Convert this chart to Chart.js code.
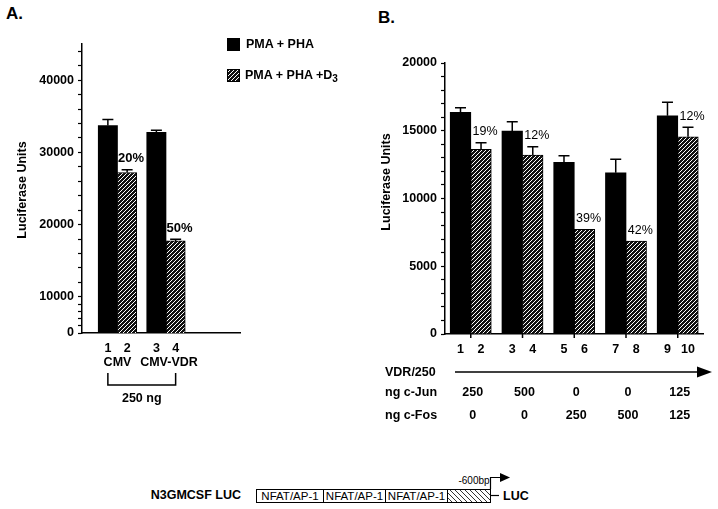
<!DOCTYPE html>
<html>
<head>
<meta charset="utf-8">
<script src="https://cdn.jsdelivr.net/npm/chart.js@4.4.1/dist/chart.umd.min.js"></script>
<style>
  html, body { margin: 0; padding: 0; background: #fff; }
  #fig { position: relative; width: 718px; height: 509px; overflow: hidden;
         font-family: "Liberation Sans", Arial, sans-serif; color: #000; }
  .abs { position: absolute; white-space: nowrap; }
  .panel { font-weight: bold; font-size: 17px; line-height: 20px; }
  .lg { font-weight: bold; font-size: 12.5px; line-height: 15px; }
  .lg sub { font-size: 10px; vertical-align: -3px; line-height: 0; }
</style>
</head>
<body>
<div id="fig">
  <div class="abs panel" style="left:6px;top:4px">A.</div>
  <div class="abs panel" style="left:378px;top:8px">B.</div>

  <canvas id="chartA" class="abs" width="260" height="420" style="left:0;top:0"></canvas>
  <canvas id="chartB" class="abs" width="358" height="430" style="left:360px;top:0"></canvas>

  <!-- legend -->
  <div class="abs" style="left:227px;top:38px;width:13px;height:13px;background:#000"></div>
  <div class="abs lg" style="left:246px;top:37px">PMA + PHA</div>
  <canvas id="swatch" class="abs" width="13" height="13" style="left:227px;top:69px"></canvas>
  <div class="abs lg" style="left:245px;top:68px">PMA + PHA +D<sub>3</sub></div>

  <!-- reporter construct -->
  <svg class="abs" style="left:0;top:460px" width="718" height="49">
    <defs>
      <pattern id="dh" width="5" height="5" patternUnits="userSpaceOnUse">
        <path d="M-1,-1 L6,6 M-1,4 L1,6 M4,-1 L6,1" stroke="#000" stroke-width="0.8"/>
      </pattern>
    </defs>
    <g font-family="Liberation Sans, Arial, sans-serif" fill="#000">
      <text x="241" y="35" text-anchor="end" dominant-baseline="central" font-weight="bold" font-size="12.5">N3GMCSF LUC</text>
      <rect x="256.5" y="29.5" width="67" height="13" fill="#fff" stroke="#000"/>
      <rect x="323.5" y="29.5" width="62" height="13" fill="#fff" stroke="#000"/>
      <rect x="385.5" y="29.5" width="62" height="13" fill="#fff" stroke="#000"/>
      <rect x="447.5" y="29.5" width="43" height="13" fill="url(#dh)" stroke="#000"/>
      <text x="290" y="36" text-anchor="middle" dominant-baseline="central" font-size="11.5">NFAT/AP-1</text>
      <text x="354.5" y="36" text-anchor="middle" dominant-baseline="central" font-size="11.5">NFAT/AP-1</text>
      <text x="416.5" y="36" text-anchor="middle" dominant-baseline="central" font-size="11.5">NFAT/AP-1</text>
      <text x="474" y="20" text-anchor="middle" dominant-baseline="central" font-size="10">-600bp</text>
      <path d="M490.5,29 V17.5 H501" fill="none" stroke="#000" stroke-width="1.2"/>
      <path d="M500,13 L510,17.5 L500,22 Z" fill="#000"/>
      <path d="M491,35.5 H499" stroke="#000" stroke-width="1.2"/>
      <text x="503" y="36" dominant-baseline="central" font-weight="bold" font-size="12.5">LUC</text>
    </g>
  </svg>
</div>

<script>
// ---- data ----
const seriesNames = ['PMA + PHA', 'PMA + PHA +D3'];

// panel A
const groupsA = ['CMV', 'CMV-VDR'];
const lanesA = ['1', '2', '3', '4'];
const plainA = [33710, 32780];
const plainErrA = [830, 280];
const d3A = [27220, 17740];
const d3ErrA = [380, 230];
const pctA = ['20%', '50%'];
const amountA = '250 ng';
const majorTicksA = [5000, 10000, 20000, 30000, 40000];
const majorLabelsA = ['0', '10000', '20000', '30000', '40000'];
const minorTicksA = [6000, 7000, 8000, 9000, 12000, 14000, 16000, 18000, 22000, 24000, 26000, 28000,
                     32000, 34000, 36000, 38000, 42000, 44000];

// panel B
const lanesB = ['1', '2', '3', '4', '5', '6', '7', '8', '9', '10'];
const plainB = [16360, 14980, 12670, 11900, 16110];
const plainErrB = [340, 690, 490, 990, 990];
const d3B = [13630, 13210, 7730, 6860, 14560];
const d3ErrB = [490, 610, 0, 0, 690];
const pctB = ['19%', '12%', '39%', '42%', '12%'];
const vdrLabel = 'VDR/250';
const junB = ['250', '500', '0', '0', '125'];
const fosB = ['0', '0', '250', '500', '125'];
const majorTicksB = [0, 5000, 10000, 15000, 20000];
const majorLabelsB = ['0', '5000', '10000', '15000', '20000'];
const minorTicksB = [1000, 2000, 3000, 4000, 6000, 7000, 8000, 9000, 11000, 12000, 13000, 14000,
                     16000, 17000, 18000, 19000];

// ---- helpers ----
const FONT = '"Liberation Sans", Arial, sans-serif';
const STEP = 2.52; // distance between pairs, in bar widths

function makeHatch(ctx) {
  const c = document.createElement('canvas');
  c.width = 4; c.height = 4;
  const g = c.getContext('2d');
  g.fillStyle = '#111';
  g.fillRect(0, 0, 4, 4);
  g.strokeStyle = '#fff';
  g.lineWidth = 1;
  g.beginPath();
  g.moveTo(0, 4); g.lineTo(4, 0);
  g.moveTo(-1, 1); g.lineTo(1, -1);
  g.moveTo(3, 5); g.lineTo(5, 3);
  g.stroke();
  return ctx.createPattern(c, 'repeat');
}

const sw = document.getElementById('swatch').getContext('2d');
sw.fillStyle = makeHatch(sw);
sw.fillRect(0, 0, 13, 13);
sw.strokeStyle = '#000';
sw.strokeRect(0.5, 0.5, 12, 12);

function pairData(values, s) {
  return values.map((v, i) => ({ x: i * STEP + s, y: v }));
}

function laneValues(n) {
  const out = [];
  for (let i = 0; i < n; i++) out.push(Math.floor(i / 2) * STEP + (i % 2));
  return out;
}

const errorBars = {
  id: 'errorBars',
  afterDatasetsDraw(chart) {
    const { ctx, scales: { y } } = chart;
    ctx.save();
    ctx.strokeStyle = '#000';
    ctx.lineWidth = 1.5;
    chart.data.datasets.forEach((ds, di) => {
      chart.getDatasetMeta(di).data.forEach((bar, i) => {
        const e = ds.errors[i];
        if (!e) return;
        const top = y.getPixelForValue(ds.data[i].y + e);
        ctx.beginPath();
        ctx.moveTo(bar.x, bar.y);
        ctx.lineTo(bar.x, top);
        ctx.moveTo(bar.x - 5.5, top);
        ctx.lineTo(bar.x + 5.5, top);
        ctx.stroke();
      });
    });
    ctx.restore();
  }
};

const pctLabels = {
  id: 'pctLabels',
  afterDatasetsDraw(chart, args, opts) {
    const { ctx, scales: { y } } = chart;
    const ds = chart.data.datasets[1];
    ctx.save();
    ctx.fillStyle = '#000';
    ctx.font = opts.font;
    ctx.textAlign = 'center';
    ctx.textBaseline = 'middle';
    chart.getDatasetMeta(1).data.forEach((bar, i) => {
      const top = y.getPixelForValue(ds.data[i].y + ds.errors[i]);
      ctx.fillText(opts.labels[i], bar.x + 4, top - 11);
    });
    ctx.restore();
  }
};

const yTitle = {
  id: 'yTitle',
  afterDraw(chart, args, opts) {
    const { ctx, chartArea } = chart;
    ctx.save();
    ctx.translate(opts.x, (chartArea.top + chartArea.bottom) / 2 + opts.shift);
    ctx.rotate(-Math.PI / 2);
    ctx.fillStyle = '#000';
    ctx.font = 'bold 12.5px ' + FONT;
    ctx.textAlign = 'center';
    ctx.textBaseline = 'middle';
    ctx.fillText('Luciferase Units', 0, 0);
    ctx.restore();
  }
};

const belowA = {
  id: 'belowA',
  afterDraw(chart) {
    const { ctx, chartArea, scales: { x } } = chart;
    const b = chartArea.bottom;
    ctx.save();
    ctx.fillStyle = '#000';
    ctx.strokeStyle = '#000';
    ctx.font = 'bold 12.5px ' + FONT;
    ctx.textAlign = 'center';
    ctx.textBaseline = 'middle';
    groupsA.forEach((g, i) => ctx.fillText(g, x.getPixelForValue(i * STEP + 0.5) + (i ? 3 : 0), b + 30));
    const x0 = x.getPixelForValue(0);
    const x1 = x.getPixelForValue((groupsA.length - 1) * STEP + 1);
    ctx.lineWidth = 1.5;
    ctx.beginPath();
    ctx.moveTo(x0, b + 40);
    ctx.lineTo(x0, b + 52);
    ctx.lineTo(x1, b + 52);
    ctx.lineTo(x1, b + 40);
    ctx.stroke();
    ctx.fillText(amountA, (x0 + x1) / 2, b + 66);
    ctx.restore();
  }
};

const belowB = {
  id: 'belowB',
  afterDraw(chart) {
    const { ctx, chartArea, scales: { x } } = chart;
    const b = chartArea.bottom, l = chartArea.left, r = chartArea.right;
    ctx.save();
    ctx.fillStyle = '#000';
    ctx.strokeStyle = '#000';
    ctx.lineWidth = 1.5;
    // small ticks between the two bars of each pair
    junB.forEach((_, i) => {
      const px = x.getPixelForValue(i * STEP + 0.5);
      ctx.beginPath();
      ctx.moveTo(px, b);
      ctx.lineTo(px, b + 4);
      ctx.stroke();
    });
    ctx.font = 'bold 12.5px ' + FONT;
    ctx.textBaseline = 'middle';
    ctx.textAlign = 'left';
    ctx.fillText(vdrLabel, l - 60, b + 39);
    ctx.fillText('ng c-Jun', l - 60, b + 59);
    ctx.fillText('ng c-Fos', l - 60, b + 82);
    // arrow
    ctx.beginPath();
    ctx.moveTo(l + 10, b + 38);
    ctx.lineTo(r - 4, b + 38);
    ctx.stroke();
    ctx.beginPath();
    ctx.moveTo(r - 6, b + 32.5);
    ctx.lineTo(r + 9, b + 38);
    ctx.lineTo(r - 6, b + 43.5);
    ctx.closePath();
    ctx.fill();
    ctx.textAlign = 'center';
    junB.forEach((t, i) => ctx.fillText(t, x.getPixelForValue(i * STEP + 0.5) + 2, b + 59));
    fosB.forEach((t, i) => ctx.fillText(t, x.getPixelForValue(i * STEP + 0.5) + 2, b + 82));
    ctx.restore();
  }
};

function yScale(min, max, major, labels, minor, width) {
  return {
    min: min, max: max,
    afterBuildTicks: s => { s.ticks = major.concat(minor).sort((a, b) => a - b).map(v => ({ value: v })); },
    afterFit: s => { s.width = width; },
    border: { display: true, color: '#000', width: 1.5 },
    grid: { drawOnChartArea: false, drawTicks: true, tickLength: 4, tickColor: '#000', tickWidth: 1.2 },
    ticks: {
      autoSkip: false, padding: 4, color: '#000',
      font: { family: FONT, size: 12.5, weight: 'bold' },
      callback: v => { const i = major.indexOf(v); return i >= 0 ? labels[i] : ''; }
    }
  };
}

function xScale(min, max, lanes) {
  const vals = laneValues(lanes.length);
  return {
    type: 'linear', min: min, max: max, offset: false,
    afterBuildTicks: s => { s.ticks = vals.map(v => ({ value: v })); },
    afterFit: s => { s.height = 24; },
    border: { display: true, color: '#000', width: 1.5 },
    grid: { display: false },
    ticks: {
      autoSkip: false, padding: 0, maxRotation: 0, color: '#000',
      font: { family: FONT, size: 12.5, weight: 'bold' },
      callback: v => { const i = vals.indexOf(v); return i >= 0 ? lanes[i] : ''; }
    }
  };
}

function barChart(id, plain, plainErr, d3, d3Err, opts) {
  const ctx = document.getElementById(id).getContext('2d');
  return new Chart(ctx, {
    type: 'bar',
    data: {
      datasets: [
        { label: seriesNames[0], data: pairData(plain, 0), errors: plainErr,
          backgroundColor: '#000', borderWidth: 0 },
        { label: seriesNames[1], data: pairData(d3, 1), errors: d3Err,
          backgroundColor: makeHatch(ctx), borderColor: '#000', borderWidth: 1 }
      ]
    },
    options: {
      responsive: false,
      animation: false,
      layout: { padding: opts.padding },
      datasets: { bar: { grouped: false, barPercentage: 1, categoryPercentage: 1 } },
      plugins: {
        legend: { display: false },
        tooltip: { enabled: false },
        pctLabels: { labels: opts.pct, font: opts.pctFont },
        yTitle: { x: opts.titleX, shift: opts.titleShift }
      },
      scales: { x: opts.x, y: opts.y }
    },
    plugins: [errorBars, pctLabels, yTitle, opts.below]
  });
}

barChart('chartA', plainA, plainErrA, d3A, d3ErrA, {
  padding: { top: 44, right: 20, bottom: 63, left: 0 },
  pct: pctA, pctFont: 'bold 13px ' + FONT,
  titleX: 23, titleShift: 1.5,
  x: xScale(-1.344, 6.864, lanesA),
  y: yScale(5000, 45000, majorTicksA, majorLabelsA, minorTicksA, 82),
  below: belowA
});

barChart('chartB', plainB, plainErrB, d3B, d3ErrB, {
  padding: { top: 63, right: 15, bottom: 72, left: 0 },
  pct: pctB, pctFont: '12.5px ' + FONT,
  titleX: 27, titleShift: -16.5,
  x: xScale(-0.755, 11.81, lanesB),
  y: yScale(0, 20000, majorTicksB, majorLabelsB, minorTicksB, 85),
  below: belowB
});
</script>
</body>
</html>
